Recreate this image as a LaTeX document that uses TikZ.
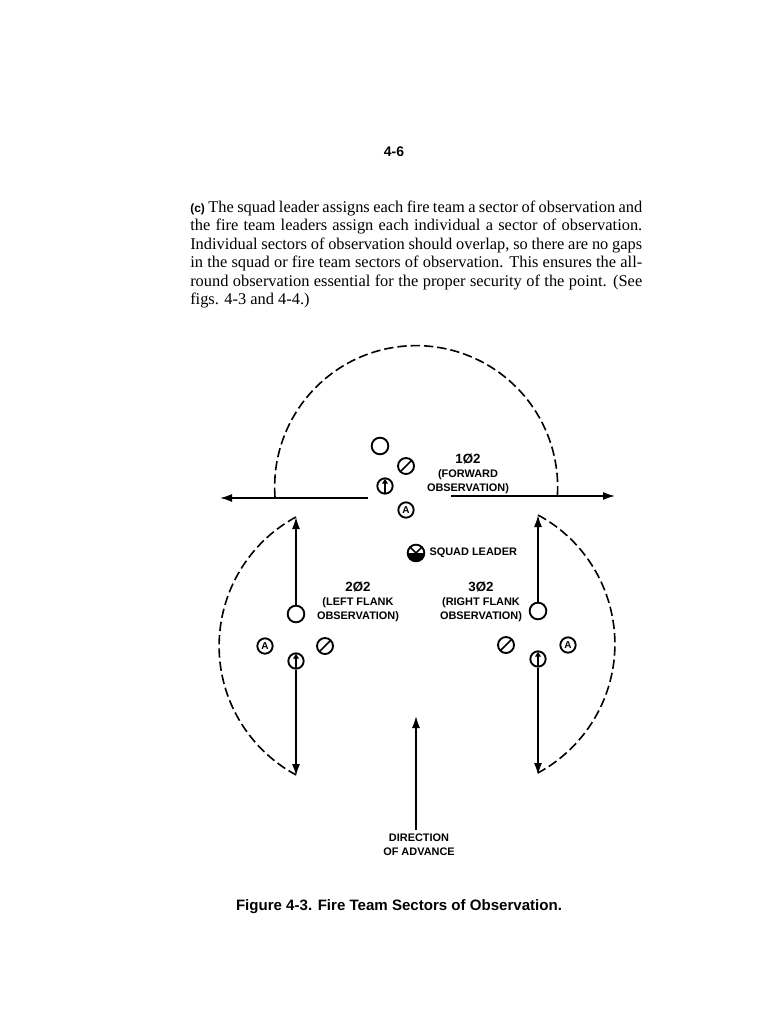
\documentclass[tikz,border=0pt]{standalone}
\usepackage{fontspec}
\setmainfont{Liberation Serif}
\setsansfont{Liberation Sans}
\usetikzlibrary{positioning,arrows.meta}

\begin{document}
\begin{tikzpicture}[
    x=0.75pt, y=-0.75pt,
    body/.style={font=\fontsize{12.3}{13.85}\selectfont, text width=339pt, inner sep=0pt, align=justify},
    lb/.style={font=\sffamily\bfseries\fontsize{8.2}{10.5}\selectfont, align=center, inner sep=0pt},
    sym/.style={draw, circle, line width=1.4pt, inner sep=0pt, minimum size=11.5pt},
    ldr/.style={sym, minimum size=12.5pt},
    rfl/.style={sym, minimum size=11.5pt, path picture={
        \draw[line width=1.2pt, -{Latex[length=4pt,width=5pt]}] (path picture bounding box.south) -- (path picture bounding box.north);}},
    sl/.style={sym, minimum size=12pt, path picture={
        \draw[line width=1.3pt] (path picture bounding box.south west) -- (path picture bounding box.north east);}},
    ar/.style={sym, minimum size=11.5pt, font=\sffamily\bfseries\fontsize{7.5}{8}\selectfont},
    fl/.style={-{Latex[length=9pt,width=6pt]}, line width=1.2pt},
    dsh/.style={line width=1.2pt, dash pattern=on 7pt off 3pt},
]
    \useasboundingbox (0,0) rectangle (779,1010);

    \node[font=\sffamily\bfseries\fontsize{10.5}{12}\selectfont] (pg) at (394,152) {4-6};
    \node[body, anchor=north west] (txt) at (190,200.5) {{\sffamily\bfseries\small(c)} The squad leader assigns each fire team a sector of observation and\linebreak
    the fire team leaders assign each individual a sector of observation.\linebreak
    Individual sectors of observation should overlap, so there are no gaps\linebreak
    in the squad or fire team sectors of observation. This ensures the all-\linebreak
    round observation essential for the proper security of the point. (See\linebreak
    figs. 4-3 and 4-4.)\hfill\null};

    % forward team
    \node[ldr] (f1) at (380,446) {};
    \node[sl] (f2) at (406,466) {};
    \node[rfl] (f3) at (385,486) {};
    \node[ar] (f4) at (406,510) {A};
    \node[lb] (fl) at (468,474) {\fontsize{10}{10.5}\selectfont 1Ø2\\(FORWARD\\OBSERVATION)};
    \coordinate (fa) at (368,498);
    \coordinate (fb) at (451,496);
    \coordinate (fc) at (220,498);
    \coordinate (fd) at (615,496);
    \coordinate (fe) at (275,497);
    \draw[fl] (fa) -- (fc);
    \draw[fl] (fb) -- (fd);
    \draw[dsh] (fe) arc[start angle=176, end angle=364, radius=141.5];

    % squad leader
    \node[sym, minimum size=12.5pt, path picture={
        \fill (path picture bounding box.west) rectangle (path picture bounding box.south east);
        \draw[line width=1.2pt] (path picture bounding box.south west) -- (path picture bounding box.north east);
        \draw[line width=1.2pt] (path picture bounding box.north west) -- (path picture bounding box.south east);}] (sq) at (416,553) {};
    \node[lb, right=3pt of sq] (sql) {SQUAD LEADER};

    % left flank
    \node[ldr] (l1) at (296,614) {};
    \node[ar] (l2) at (265,646) {A};
    \node[sl] (l3) at (325,646) {};
    \node[rfl] (l4) at (296,661) {};
    \node[lb] (ll) at (358,602) {\fontsize{10}{10.5}\selectfont 2Ø2\\(LEFT FLANK\\OBSERVATION)};
    \coordinate (la) at (296,517);
    \coordinate (lb) at (296,776);
    \draw[fl] (l1) -- (la);
    \draw[fl] (l4) -- (lb);
    \draw[dsh] (la) arc[start angle=-118.4, end angle=-241.6, radius=146.6];

    % right flank
    \node[ldr] (r1) at (538,611) {};
    \node[sl] (r2) at (506,645) {};
    \node[ar] (r3) at (568,645) {A};
    \node[rfl] (r4) at (538,659) {};
    \node[lb] (rl) at (481,602) {\fontsize{10}{10.5}\selectfont 3Ø2\\(RIGHT FLANK\\OBSERVATION)};
    \coordinate (ra) at (538,515);
    \coordinate (rb) at (538,775);
    \draw[fl] (r1) -- (ra);
    \draw[fl] (r4) -- (rb);
    \draw[dsh] (ra) arc[start angle=-61.6, end angle=61.6, radius=146.6];

    % direction
    \node[lb] (dir) at (419,845) {DIRECTION\\OF ADVANCE};
    \coordinate (dt) at (416,716);
    \draw[fl, shorten <=3pt] (dir.north -| dt) -- (dt);

    \node[font=\sffamily\bfseries\fontsize{11.3}{13}\selectfont] (cap) at (399,907) {Figure 4-3. Fire Team Sectors of Observation.};
\end{tikzpicture}
\end{document}
